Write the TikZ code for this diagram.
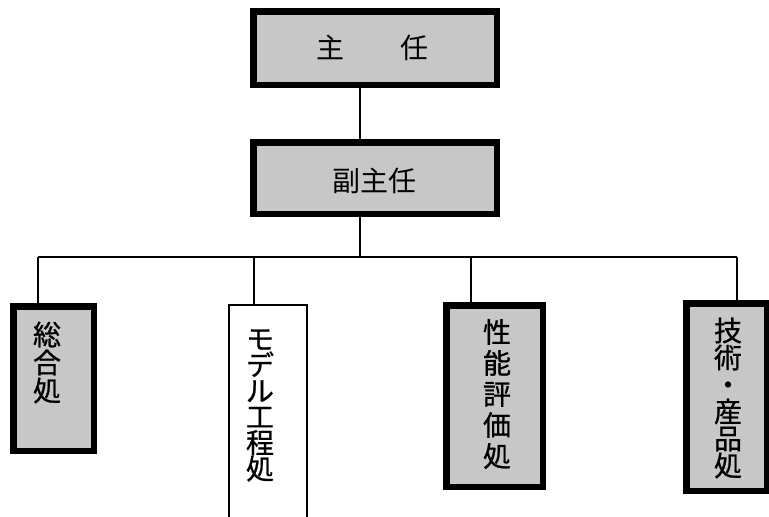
\documentclass[tikz,border=0pt]{standalone}
\usepackage{fontspec}
\newfontfamily\jp[FakeBold=0.8]{Noto Sans CJK JP}
\newfontfamily\jpthin{Noto Sans CJK JP}
\begin{document}
\begin{tikzpicture}[x=1pt,y=-1pt,
  thickbox/.style={draw=black, line width=6.5pt, fill=black!22, rectangle, inner sep=0pt},
  thinbox/.style={draw=black, line width=1.8pt, fill=white, rectangle, inner sep=0pt},
  conn/.style={draw=black, line width=1.5pt},
  htext/.style={font=\jpthin\fontsize{28}{30}\selectfont, inner sep=0pt},
  vtext/.style={align=center, inner sep=0pt}]
\useasboundingbox (0,0) rectangle (769,517);
% boxes
\node[thickbox, minimum width=243.5pt, minimum height=73.5pt] (zhu) at (375,48) {};
\node[thickbox, minimum width=243.5pt, minimum height=71.5pt] (fu) at (375,178) {};
\node[thickbox, minimum width=80.5pt, minimum height=144.5pt] (zonghe) at (53.5,378.5) {};
\node[thinbox, minimum width=78.2pt, minimum height=220pt] (model) at (268,415) {};
\node[thickbox, minimum width=96.5pt, minimum height=181.5pt] (xing) at (494.5,396) {};
\node[thickbox, minimum width=80.5pt, minimum height=187.5pt] (jishu) at (726.5,397) {};
% connectors
\coordinate (trunk) at (360,257);
\coordinate (bl) at (38,257);
\coordinate (d2) at (254,257);
\coordinate (d3) at (471,257);
\coordinate (br) at (737,257);
\draw[conn] (zhu.south -| trunk) -- (fu.north -| trunk);
\draw[conn] (fu.south -| trunk) -- (trunk);
\draw[conn] (bl) -- (br);
\draw[conn] (bl) -- (bl |- zonghe.north);
\draw[conn] (d2) -- (d2 |- model.north);
\draw[conn] (d3) -- (d3 |- xing.north);
\draw[conn] (br) -- (br |- jishu.north);
% texts
\node[htext] (t0) at (372.5,48) {主\hspace{57pt}任};
\node[htext] (t1) at (374,181) {副主任};
\node[vtext, font=\jp\fontsize{28}{28}\selectfont] (t2) at (47,362.5) {総\\合\\処};
\node[vtext, font=\jp\fontsize{28}{26}\selectfont] (t3) at (260,405.5) {モ\\デ\\ル\\工\\程\\処};
\node[vtext, font=\jp\fontsize{28}{31}\selectfont] (t4) at (497,394) {性\\能\\評\\価\\処};
\node[vtext, font=\jp\fontsize{28}{27}\selectfont] (t5) at (728,398) {技\\術\\・\\産\\品\\処};
\end{tikzpicture}
\end{document}
